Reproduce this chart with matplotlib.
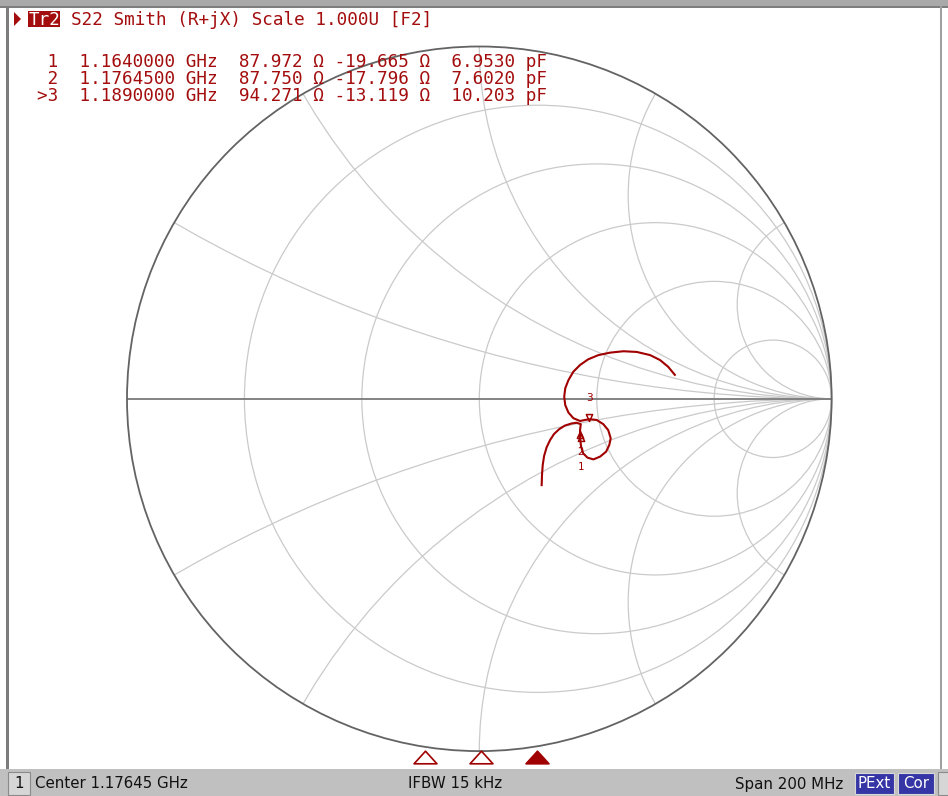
import numpy as np
import matplotlib
matplotlib.use("Agg")
import matplotlib.pyplot as plt
from matplotlib.patches import Rectangle, Circle, Polygon
from matplotlib.path import Path

# ---------------- measured S22 trace (reflection coefficient) ----------------
trace_re = [0.555, 0.536, 0.513, 0.485, 0.447, 0.409, 0.371, 0.338, 0.309, 0.286,
            0.267, 0.253, 0.244, 0.241, 0.244, 0.253, 0.267, 0.286,
            0.300, 0.314, 0.333, 0.352, 0.366, 0.373, 0.369, 0.360, 0.343, 0.324,
            0.307, 0.295, 0.289, 0.286, 0.286, 0.288,
            0.276, 0.262, 0.243, 0.227, 0.212, 0.201, 0.191, 0.184, 0.180, 0.178, 0.177]
trace_im = [0.068, 0.091, 0.110, 0.124, 0.133, 0.135, 0.131, 0.124, 0.112, 0.096,
            0.077, 0.053, 0.030, 0.006, -0.018, -0.039, -0.055, -0.063,
            -0.060, -0.058, -0.060, -0.072, -0.089, -0.112, -0.131, -0.150, -0.164, -0.172,
            -0.167, -0.155, -0.136, -0.112, -0.089, -0.072,
            -0.068, -0.070, -0.076, -0.086, -0.100, -0.117, -0.138, -0.162, -0.188, -0.216, -0.245]

# ---------------- marker table ----------------
marker_ids = ["1", "2", "3"]
marker_freq_ghz = [1.1640000, 1.1764500, 1.1890000]
marker_r_ohm = [87.972, 87.750, 94.271]
marker_x_ohm = [-19.665, -17.796, -13.119]
marker_c_pf = [6.9530, 7.6020, 10.203]
active_marker = "3"
z0_ohm = 50.0

# ---------------- sweep / status ----------------
center_ghz = 1.17645
span_mhz = 200
status_center = "Center 1.17645 GHz"
status_ifbw = "IFBW 15 kHz"
status_span = "Span 200 MHz"
header_trace = "Tr2"
header_text = "S22 Smith (R+jX) Scale 1.000U [F2]"

# ---------------- Smith grid values ----------------
r_circles = [0.2, 0.5, 1.0, 2.0, 5.0]
x_arcs = [0.268, 0.577, 1.0, 1.732, 3.732]

# ---------------- styling ----------------
RED = "#a30d0d"
TRACE = "#a00000"
GRID = "#cacaca"
W, H = 948, 796
MONO = "DejaVu Sans Mono"
SANS = "DejaVu Sans"


def fx(px):
    return px / W


def fy(py):
    return 1 - py / H


def fig_rect(fig, x0, y0, x1, y1, **kw):
    r = Rectangle((fx(x0), fy(y1)), (x1 - x0) / W, (y1 - y0) / H,
                  transform=fig.transFigure, **kw)
    fig.add_artist(r)
    return r


fig = plt.figure(figsize=(W / 100, H / 100), dpi=100, facecolor="white")

# Smith chart axes: unit circle centred at (479.3, 398.8) px with radius 352.3 px
cx, cy, rad = 479.3, 398.8, 352.3
ax = fig.add_axes([0, 0, 1, 1])
ax.set_xlim((0 - cx) / rad, (W - cx) / rad)
ax.set_ylim((cy - H) / rad, (cy - 0) / rad)
ax.axis("off")

unit = Circle((0, 0), 1.0, transform=ax.transData, fill=False, lw=0)
ax.add_patch(unit)

for r in r_circles:
    c = Circle((r / (1 + r), 0), 1 / (1 + r), fill=False, ec=GRID, lw=0.9, zorder=1)
    ax.add_patch(c)
for x in x_arcs:
    for s in (1, -1):
        c = Circle((1, s / x), 1 / x, fill=False, ec=GRID, lw=0.9, zorder=1)
        ax.add_patch(c)
        c.set_clip_path(unit)

ax.plot([-1, 1], [0, 0], color="#7a7a7a", lw=1.3, zorder=2, solid_capstyle="butt")
ax.add_patch(Circle((0, 0), 1.0, fill=False, ec="#636363", lw=1.3, zorder=3))

# trace
ax.plot(trace_re, trace_im, color=TRACE, lw=1.5, zorder=5, solid_joinstyle="round")

# markers on trace, computed from the displayed impedance values
z = (np.array(marker_r_ohm) + 1j * np.array(marker_x_ohm)) / z0_ohm
gamma = (z - 1) / (z + 1)
tri_down = Path([(0, 0), (-0.45, 1), (0.45, 1), (0, 0)],
                [Path.MOVETO, Path.LINETO, Path.LINETO, Path.CLOSEPOLY])
tri_up = Path([(0, 0), (-0.45, -1), (0.45, -1), (0, 0)],
              [Path.MOVETO, Path.LINETO, Path.LINETO, Path.CLOSEPOLY])
label_drop = {"2": -11, "1": -20}
for mid, g in zip(marker_ids, gamma):
    if mid == active_marker:
        ax.plot(g.real, g.imag, marker=tri_down, ms=10, mfc="none", mec=TRACE,
                mew=1.1, zorder=6)
        ax.annotate(mid, (g.real, g.imag), xytext=(0, 13), textcoords="offset points",
                    ha="center", va="bottom", fontsize=8, family=MONO, color=TRACE,
                    zorder=7)
    else:
        ax.plot(g.real, g.imag, marker=tri_up, ms=10, mfc="none", mec=TRACE,
                mew=1.1, zorder=6)
        ax.annotate(mid, (g.real, g.imag), xytext=(0, label_drop[mid]),
                    textcoords="offset points", ha="center", va="top", fontsize=7.5,
                    family=MONO, color=TRACE, zorder=7)

# ---------------- frequency marker indicators along the sweep ----------------
f_start = center_ghz - span_mhz / 2000
f_stop = center_ghz + span_mhz / 2000
fax = fig.add_axes([fx(31), fy(765), (931 - 31) / W, (765 - 749) / H])
fax.set_xlim(f_start, f_stop)
fax.set_ylim(0, 1)
fax.axis("off")
flag = Path([(-1, -0.55), (1, -0.55), (0, 0.55), (-1, -0.55)],
            [Path.MOVETO, Path.LINETO, Path.LINETO, Path.CLOSEPOLY])
for mid, f in zip(marker_ids, marker_freq_ghz):
    active = mid == active_marker
    fax.plot(f, 0.5, marker=flag, ms=16.5, mfc=TRACE if active else "white",
             mec=TRACE, mew=1.2, clip_on=False)

# ---------------- window frame ----------------
fig_rect(fig, 0, 0, W, 6, fc="#a9a9a9", ec="none", zorder=0)
fig_rect(fig, 0, 6, W, 8, fc="#7d7d7d", ec="none", zorder=0)
fig_rect(fig, 6, 6, 8.5, 769, fc="#7d7d7d", ec="none", zorder=0)
fig_rect(fig, 940, 6, 942, 769, fc="#a0a0a0", ec="none", zorder=0)

# ---------------- header ----------------
fig.add_artist(Polygon([(fx(14), fy(12)), (fx(14), fy(26)), (fx(21), fy(19))],
                       closed=True, transform=fig.transFigure, fc=RED, ec="none"))
fig_rect(fig, 28, 11, 60, 27, fc=RED, ec="none")
fig.text(fx(28.6), fy(25), header_trace, family=MONO, size=12.7, color="white",
         va="baseline", ha="left")
fig.text(fx(71.4), fy(25), header_text, family=MONO, size=12.7, color=RED,
         va="baseline", ha="left")

# marker readout table
row_base = [67, 84, 101]
for mid, f, rr, xx, cc, yb in zip(marker_ids, marker_freq_ghz, marker_r_ohm,
                                   marker_x_ohm, marker_c_pf, row_base):
    tag = (">" + mid) if mid == active_marker else (" " + mid)
    line = f"{tag}  {f:.7f} GHz  {rr:.3f} \u03a9 {xx:.3f} \u03a9  {cc:#.5g} pF"
    fig.text(fx(37.3), fy(yb), line, family=MONO, size=12.7, color=RED,
             va="baseline", ha="left")

# ---------------- status bar ----------------
fig_rect(fig, 0, 769, W, H, fc="#c0c0c0", ec="none")
fig_rect(fig, 8, 772, 30, 795, fc="#d6d6d6", ec="#8a8a8a", lw=0.8)
fig.text(fx(19), fy(784), "1", family=SANS, size=10.8, color="#111111",
         ha="center", va="center")
fig.text(fx(35), fy(784), status_center, family=SANS, size=10.8, color="#111111",
         ha="left", va="center")
fig.text(fx(408), fy(784), status_ifbw, family=SANS, size=10.8, color="#111111",
         ha="left", va="center")
fig.text(fx(843), fy(784), status_span, family=SANS, size=10.8, color="#111111",
         ha="right", va="center")
for x0, x1, label in [(855, 894, "PExt"), (898, 934, "Cor")]:
    fig_rect(fig, x0, 773, x1, 794, fc="#3535a5", ec="#d8d8d8", lw=0.8)
    fig.text(fx((x0 + x1) / 2), fy(784), label, family=SANS, size=10.8,
             color="white", ha="center", va="center")
fig_rect(fig, 938, 772, 950, 795, fc="#d6d6d6", ec="#8a8a8a", lw=0.8)

fig.savefig("out.png", dpi=100, facecolor="white")
